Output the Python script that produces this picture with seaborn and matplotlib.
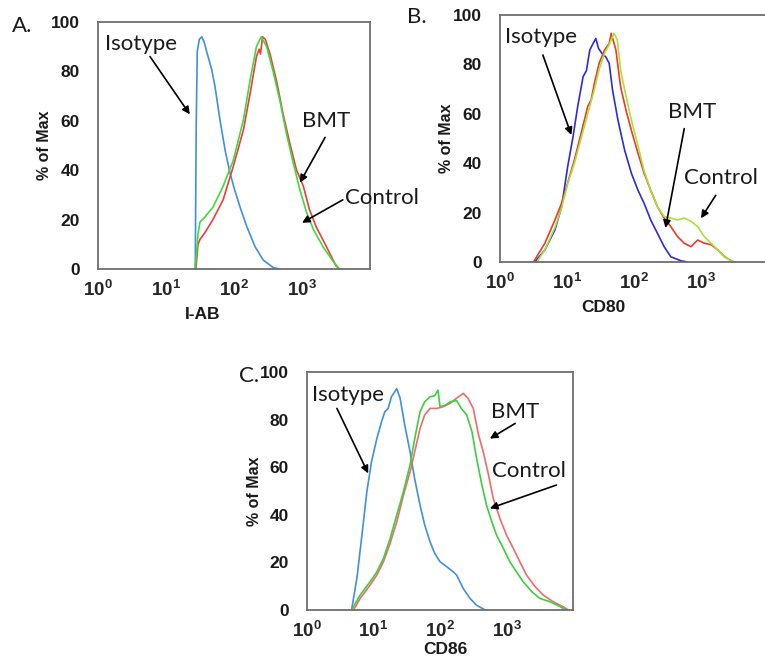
import numpy as np
import pandas as pd
import matplotlib
matplotlib.use('Agg')
import matplotlib.pyplot as plt
import seaborn as sns
from matplotlib.ticker import FixedLocator, LogLocator, MultipleLocator, NullFormatter

# ---- data (x stored as log10 of fluorescence intensity, y as % of max) ----
# Panel A: I-AB
a_iso_x = [1.43, 1.445, 1.46, 1.49, 1.525, 1.56, 1.60, 1.67, 1.72, 1.79, 1.87, 1.94, 2.01, 2.09, 2.19, 2.31, 2.43, 2.58, 2.68]
a_iso_y = [0, 60, 88, 93, 94, 92, 87.8, 81, 74, 61, 48, 39, 32, 25, 17, 9, 3.6, 0.5, 0]
a_ctl_x = [1.43, 1.47, 1.50, 1.57, 1.69, 1.84, 1.99, 2.14, 2.24, 2.33, 2.40, 2.48, 2.58, 2.68, 2.77, 2.87, 2.97, 3.07, 3.17, 3.31, 3.46, 3.55]
a_ctl_y = [0, 14, 19, 21, 25, 33.5, 44, 60.6, 77, 90, 94, 90, 79.5, 67.5, 55, 43, 32, 22.7, 15.9, 9, 3, 0]
a_bmt_x = [1.44, 1.47, 1.50, 1.57, 1.69, 1.84, 1.99, 2.14, 2.24, 2.33, 2.37, 2.39, 2.42, 2.46, 2.53, 2.63, 2.72, 2.82, 2.92, 3.02, 3.11, 3.21, 3.36, 3.50, 3.55]
a_bmt_y = [0, 10, 12, 14.6, 20, 28, 41.6, 56.5, 71.5, 86, 89, 87, 94, 93, 87, 75.6, 63, 51, 40, 33.5, 24, 17, 9, 1.3, 0]

# Panel B: CD80
b_iso_x = [0.52, 0.67, 0.82, 0.92, 1.01, 1.09, 1.16, 1.24, 1.29, 1.34, 1.39, 1.43, 1.47, 1.52, 1.58, 1.63, 1.68, 1.76,
           1.86, 1.96, 2.06, 2.15, 2.25, 2.35, 2.45, 2.55, 2.70, 2.80]
b_iso_y = [0, 4.9, 13, 22.4, 38.6, 50.7, 63, 75, 77.5, 85.8, 88.5, 90.5, 86.5, 84.5, 83, 80.4, 69.6, 57.5,
           45.3, 36, 29, 23.8, 17, 11.6, 6.2, 2.1, 0.5, 0]
b_bmt_x = [0.50, 0.67, 0.82, 0.92, 1.01, 1.11, 1.21, 1.31, 1.36, 1.41, 1.48, 1.56, 1.63, 1.66, 1.73, 1.80, 1.88, 1.96,
           2.06, 2.15, 2.25, 2.35, 2.45, 2.55, 2.65, 2.75, 2.85, 2.95, 3.05, 3.15, 3.25, 3.35, 3.45, 3.50]
b_bmt_y = [0, 7.6, 17, 23.9, 32, 41.3, 52, 63, 65.6, 72.5, 80.5, 85.8, 88.5, 92.6, 85.8, 71, 61.5, 53.4,
           44, 36, 29, 22.4, 17.8, 14.3, 10.3, 7.6, 6.2, 8.9, 7.6, 7, 4.9, 2.2, 0.5, 0]
b_ctl_x = [0.55, 0.67, 0.82, 0.92, 1.01, 1.11, 1.21, 1.31, 1.41, 1.48, 1.56, 1.63, 1.70, 1.75, 1.80, 1.85, 1.96,
           2.06, 2.15, 2.25, 2.35, 2.45, 2.55, 2.65, 2.75, 2.85, 2.95, 3.05, 3.15, 3.25, 3.35, 3.48]
b_ctl_y = [0, 5, 14, 22, 31.5, 40, 50, 60, 70, 78, 84.5, 88, 92.6, 90, 77.7, 71, 57.5,
           47, 37, 29, 22.4, 18.4, 17.8, 17, 17.8, 16.5, 14.3, 10.3, 7.6, 4.9, 2, 0]

# Panel C: CD86
c_iso_x = [0.67, 0.75, 0.82, 0.90, 0.97, 1.05, 1.12, 1.17, 1.22, 1.27, 1.35, 1.40, 1.47, 1.55, 1.62, 1.70, 1.77,
           1.85, 1.92, 2.00, 2.10, 2.20, 2.25, 2.35, 2.45, 2.55, 2.68]
c_iso_y = [0, 13.3, 30, 49.7, 62.3, 72, 79, 83.3, 84.7, 89.6, 93, 89, 77.7, 66.5, 55, 44, 35.7,
           28.7, 23.8, 20.3, 18.2, 16, 14.7, 9, 4.9, 2, 0]
c_ctl_x = [0.67, 0.80, 0.95, 1.05, 1.15, 1.25, 1.35, 1.45, 1.55, 1.62, 1.70, 1.77, 1.85, 1.92, 1.97, 2.00, 2.08,
           2.15, 2.25, 2.32, 2.40, 2.48, 2.55, 2.63, 2.70, 2.78, 2.85, 2.95, 3.05, 3.15, 3.25, 3.38, 3.50, 3.65, 3.80, 3.90]
c_ctl_y = [0, 6.3, 11.9, 16, 21.7, 30, 40, 49.7, 61, 72, 83.3, 87.5, 89.6, 90, 92.4, 85.4, 86,
           87.5, 88, 84.7, 82, 75, 63.7, 52.5, 44, 37, 31.5, 26, 20.3, 16, 11.9, 7.7, 4.9, 3.5, 1.5, 0]
c_bmt_x = [0.70, 0.80, 0.95, 1.05, 1.15, 1.25, 1.35, 1.45, 1.55, 1.62, 1.70, 1.77, 1.85, 1.95, 2.05, 2.15, 2.25,
           2.35, 2.42, 2.50, 2.58, 2.65, 2.73, 2.80, 2.90, 3.00, 3.10, 3.20, 3.30, 3.43, 3.55, 3.70, 3.85, 3.93]
c_bmt_y = [0, 4.9, 10.5, 14.7, 20.3, 28, 37, 48.2, 58, 66.5, 76.3, 82, 84.7, 84.7, 85.4, 86.8, 89,
           91, 89, 84.7, 73.5, 66.5, 56.7, 47, 38.5, 31.5, 26, 20.3, 14.7, 9.8, 6.3, 3.5, 1.4, 0]

x_ticks = [0, 1, 2, 3]
y_ticks = [0, 20, 40, 60, 80, 100]

sns.set_style('white')
plt.rcParams['font.family'] = ['Liberation Sans', 'DejaVu Sans']
plt.rcParams['mathtext.fontset'] = 'custom'
plt.rcParams['mathtext.rm'] = 'Liberation Sans:bold'
plt.rcParams['mathtext.it'] = 'Liberation Sans:bold'
plt.rcParams['mathtext.bf'] = 'Liberation Sans:bold'

W, H = 765, 660
fig = plt.figure(figsize=(W / 100, H / 100), dpi=100)

frame_col = '#6e6e6e'
note_font = dict(family='Lato', fontsize=16, color='#1a1a1a')


def px_axes(left, top, right, bottom):
    return fig.add_axes([left / W, 1 - bottom / H, (right - left) / W, (bottom - top) / H])


def style_axes(ax, xlabel, xlab_pos, xlab_y=-0.155):
    ax.set_xscale('log')
    ax.set_xlim(1, 1e4)
    ax.set_ylim(0, 100)
    ax.xaxis.set_major_locator(FixedLocator([10.0 ** e for e in x_ticks]))
    ax.set_xticklabels([r'$10^{%d}$' % e for e in x_ticks])
    ax.xaxis.set_minor_locator(LogLocator(base=10, subs=np.arange(2, 10)))
    ax.xaxis.set_minor_formatter(NullFormatter())
    ax.yaxis.set_major_locator(FixedLocator(y_ticks))
    ax.yaxis.set_minor_locator(MultipleLocator(5))
    ax.tick_params(axis='x', which='major', labelsize=13.5, length=5, width=1, color=frame_col, pad=3)
    ax.tick_params(axis='y', which='major', labelsize=12.5, length=5, width=1, color=frame_col, pad=8)
    ax.tick_params(which='minor', length=3, width=0.8, color=frame_col)
    ax.tick_params(axis='y', labelcolor='#1a1a1a')
    for lab in ax.get_yticklabels():
        lab.set_fontweight('bold')
    for s in ax.spines.values():
        s.set_color(frame_col)
        s.set_linewidth(1.3)
    ax.set_xlabel(xlabel, fontsize=12.5, fontweight='bold', color='#1a1a1a')
    ax.set_ylabel('% of Max', fontsize=11.5, fontweight='bold', color='#1a1a1a')
    ax.xaxis.set_label_coords(xlab_pos, xlab_y)
    ax.yaxis.set_label_coords(-0.17, 0.5)


def draw(ax, xs, ys, color):
    df = pd.DataFrame({'x': 10.0 ** np.array(xs), 'y': ys})
    sns.lineplot(data=df, x='x', y='y', color=color, lw=1.2, estimator=None, sort=False, ax=ax)


def note(ax, text, tx, ty, start, head):
    ax.text(10 ** tx, ty, text, ha='left', va='center', clip_on=False, **note_font)
    ax.annotate('', xy=(10 ** head[0], head[1]), xytext=(10 ** start[0], start[1]),
                arrowprops=dict(arrowstyle='-|>', color='black', lw=1.2, mutation_scale=11,
                                shrinkA=0, shrinkB=0), annotation_clip=False)


# ---- panel A ----
axA = px_axes(98, 22, 370, 269)
draw(axA, a_iso_x, a_iso_y, '#4190dd')
draw(axA, a_bmt_x, a_bmt_y, '#f03c3c')
draw(axA, a_ctl_x, a_ctl_y, '#3ddc3d')
style_axes(axA, 'I-AB', 0.385)
note(axA, 'Isotype', 0.10, 91, (0.765, 86), (1.35, 62.6))
note(axA, 'BMT', 3.0, 59.8, (3.34, 53.3), (2.97, 35))
note(axA, 'Control', 3.63, 28.9, (3.60, 28), (3.0, 18.7))

# ---- panel B ----
axB = px_axes(500, 15, 768, 262)
draw(axB, b_iso_x, b_iso_y, '#2b2be0')
draw(axB, b_bmt_x, b_bmt_y, '#f03a22')
draw(axB, b_ctl_x, b_ctl_y, '#a6e23e')
style_axes(axB, 'CD80', 0.385)
note(axB, 'Isotype', 0.074, 91, (0.64, 83.8), (1.065, 51.4))
note(axB, 'BMT', 2.50, 60.7, (2.75, 54), (2.47, 13.8))
note(axB, 'Control', 2.75, 34, (3.22, 27), (3.0, 17.7))

# ---- panel C ----
axC = px_axes(307, 372, 573, 610)
draw(axC, c_iso_x, c_iso_y, '#4190dd')
draw(axC, c_bmt_x, c_bmt_y, '#f26a6a')
draw(axC, c_ctl_x, c_ctl_y, '#3ccf3c')
style_axes(axC, 'CD86', 0.52, -0.135)
note(axC, 'Isotype', 0.075, 90.3, (0.45, 84.7), (0.92, 57.4))
note(axC, 'BMT', 2.77, 83, (3.13, 78.4), (2.75, 72))
note(axC, 'Control', 2.78, 58.4, (3.75, 52.5), (2.75, 42.7))

# panel letters
fig.text(12 / W, 1 - 26 / H, 'A.', ha='left', va='center', **note_font)
fig.text(407 / W, 1 - 17 / H, 'B.', ha='left', va='center', **note_font)
fig.text(239 / W, 1 - 376 / H, 'C.', ha='left', va='center', **note_font)

fig.savefig('out.png', dpi=100)
